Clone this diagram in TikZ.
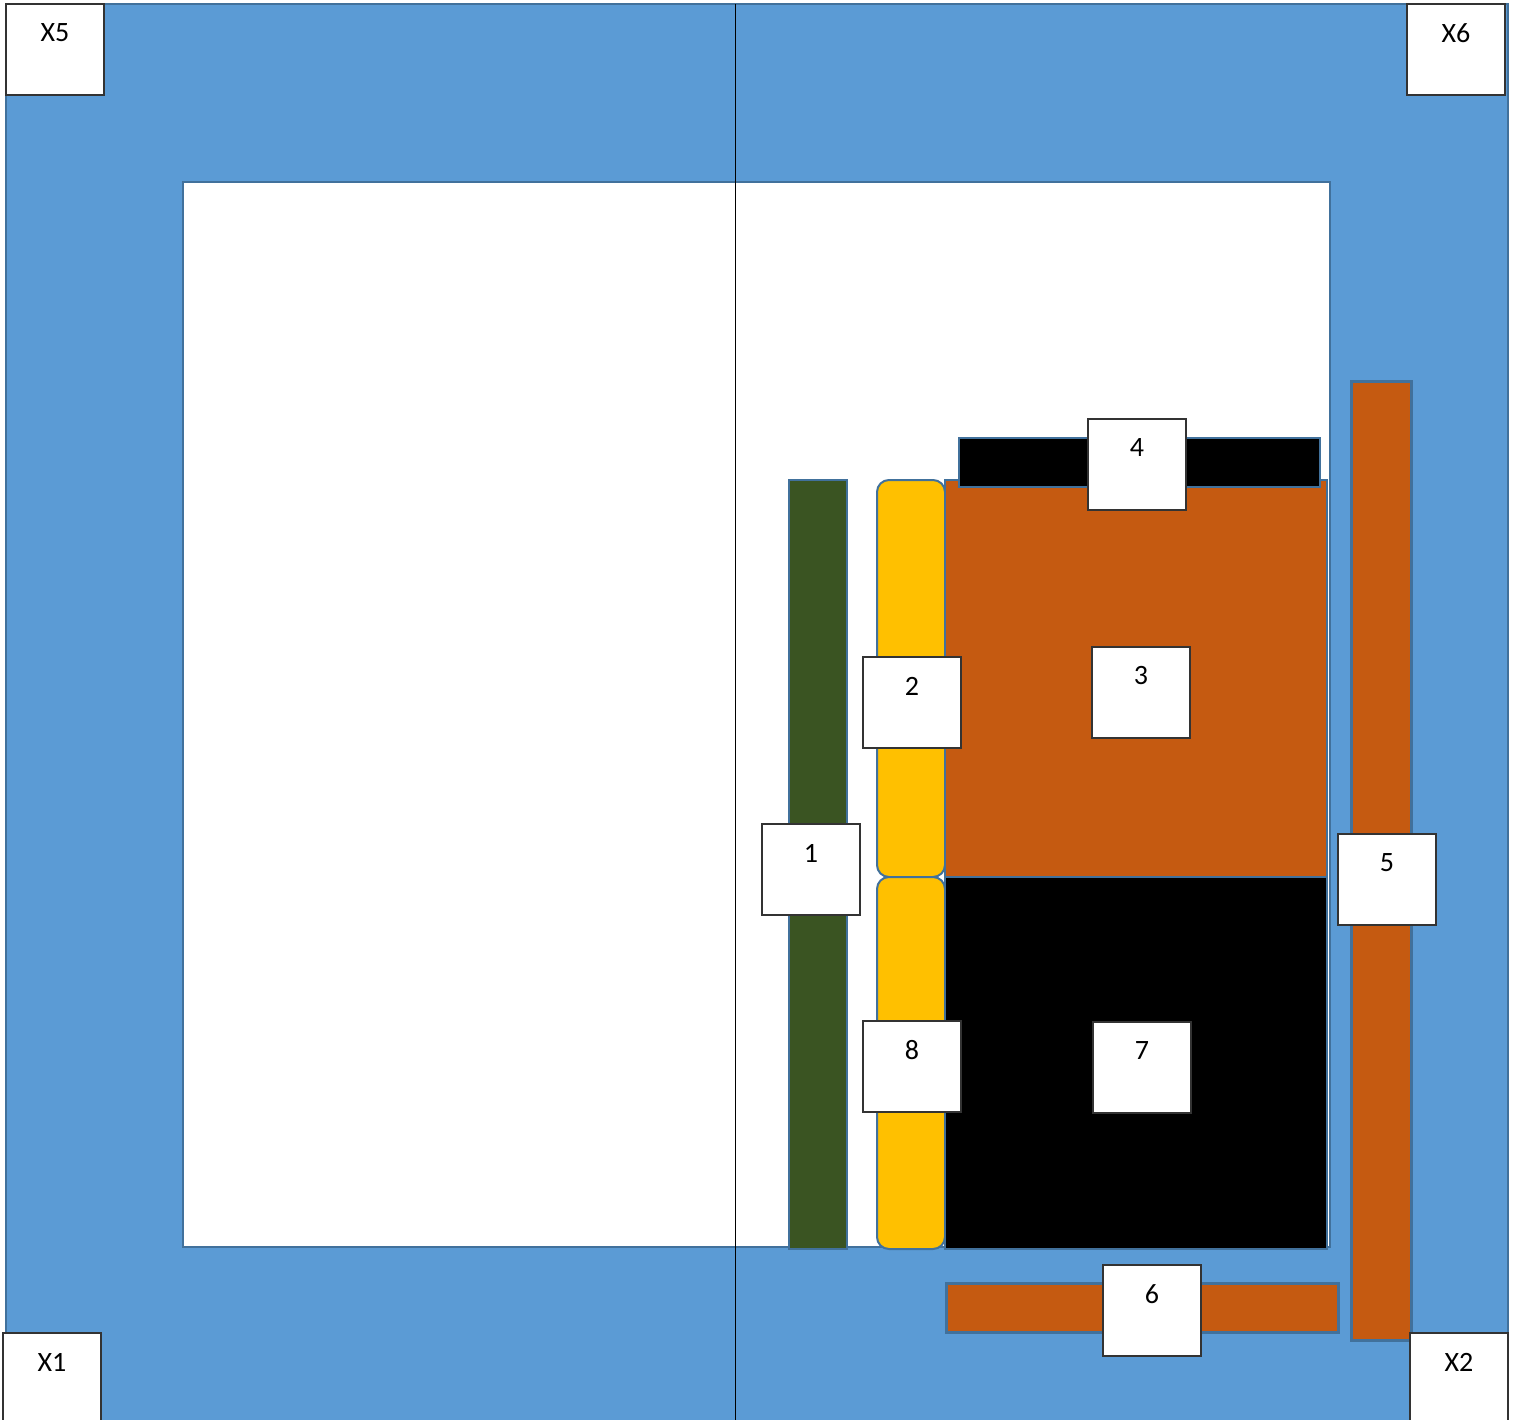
\documentclass[tikz,border=0pt]{standalone}
\usepackage{fontspec}
\setmainfont{Carlito}
\definecolor{frameblue}{HTML}{5B9BD5}
\definecolor{edgeblue}{HTML}{41719C}
\definecolor{rust}{HTML}{C55A11}
\definecolor{darkgreen}{HTML}{3A5422}
\definecolor{amber}{HTML}{FFC000}
\begin{document}
\begin{tikzpicture}[x=1pt,y=-1pt,
  part/.style={draw=edgeblue,line width=2pt,inner sep=0pt,outer sep=0pt,anchor=north west},
  tag/.style={draw=black!80,fill=white,line width=1.2pt,inner sep=0pt,outer sep=0pt,anchor=north west,
    minimum width=98pt,minimum height=91pt},
  tagtext/.style={font=\fontsize{28}{30}\selectfont,anchor=center,yshift=-29pt,inner sep=0pt}
]
\useasboundingbox (0,0) rectangle (1514,1420);
\clip (0,0) rectangle (1514,1420);
% frame and inner field
\node[part,fill=frameblue,minimum width=1502pt,minimum height=1440pt] (frame) at (6,4) {};
\node[part,fill=white,minimum width=1147pt,minimum height=1065pt] (field) at (183,182) {};
\coordinate (vtop) at (735,4);
\coordinate (vbot) at (735,1420);
\draw[black,line width=1pt] (vtop) -- (vbot);
% parts
\node[part,fill=darkgreen,minimum width=58pt,minimum height=769pt] (p1) at (789,480) {};
\node[part,fill=amber,rounded corners=12pt,minimum width=68pt,minimum height=397pt] (p2) at (877,480) {};
\node[part,fill=amber,rounded corners=12pt,minimum width=68pt,minimum height=372pt] (p8) at (877,877) {};
\node[part,fill=rust,minimum width=382pt,minimum height=397pt] (p3) at (945,480) {};
\node[part,fill=black,minimum width=382pt,minimum height=372pt] (p7) at (945,877) {};
\node[part,fill=black,minimum width=361pt,minimum height=49pt] (p4) at (959,438) {};
\node[part,fill=rust,line width=3pt,minimum width=60pt,minimum height=959pt] (p5) at (1351,381) {};
\node[part,fill=rust,line width=3pt,minimum width=392pt,minimum height=49pt] (p6) at (946,1283) {};
% tags
\node[tag,label={[tagtext]north:X5}] (tx5) at (6,4) {};
\node[tag,label={[tagtext]north:X6}] (tx6) at (1407,4) {};
\node[tag,label={[tagtext]north:X1}] (tx1) at (3,1333) {};
\node[tag,label={[tagtext]north:X2}] (tx2) at (1410,1333) {};
\node[tag,label={[tagtext]north:1}] (t1) at (762,824) {};
\node[tag,label={[tagtext]north:2}] (t2) at (863,657) {};
\node[tag,label={[tagtext]north:3}] (t3) at (1092,647) {};
\node[tag,label={[tagtext]north:4}] (t4) at (1088,419) {};
\node[tag,label={[tagtext]north:5}] (t5) at (1338,834) {};
\node[tag,label={[tagtext]north:6}] (t6) at (1103,1265) {};
\node[tag,label={[tagtext]north:7}] (t7) at (1093,1022) {};
\node[tag,label={[tagtext]north:8}] (t8) at (863,1021) {};
\end{tikzpicture}
\end{document}
